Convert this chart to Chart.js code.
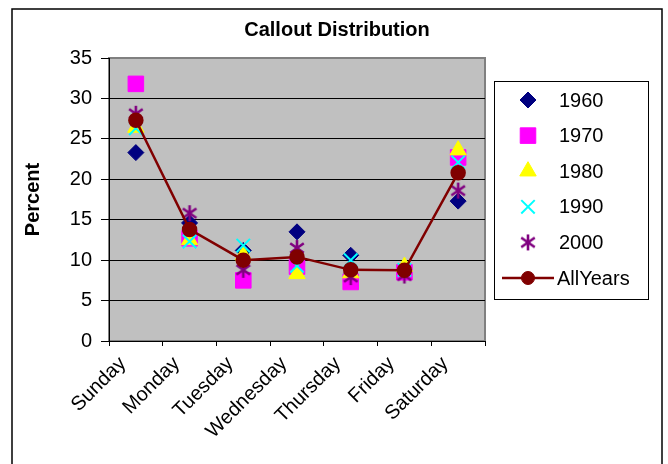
<!DOCTYPE html>
<html><head><meta charset="utf-8">
<title>Callout Distribution</title>
<script src="https://cdn.jsdelivr.net/npm/chart.js@4.4.7/dist/chart.umd.min.js"></script>
<style>
html,body{margin:0;padding:0;background:#fff}
#wrap{width:668px;height:464px;position:relative}
</style></head><body>
<div id="wrap"><canvas id="chart" width="668" height="464"></canvas></div>
<script>
// 呼叫分布（按星期），各年代 + 全部年份
var DAYS = ['Sunday','Monday','Tuesday','Wednesday','Thursday','Friday','Saturday'];
var Y1960 = [23.3, 14.6, 11.2, 13.5, 10.6, 8.6, 17.3];
var Y1970 = [31.8, 12.7, 7.5, 9.2, 7.3, 8.5, 22.7];
var Y1980 = [26.4, 12.5, 10.6, 8.3, 8.4, 9.2, 23.6];
var Y1990 = [26.3, 12.3, 11.8, 9.3, 10.0, 8.8, 22.1];
var Y2000 = [28.1, 15.8, 8.8, 11.5, 7.9, 8.1, 18.6];
var ALLYEARS = [27.3, 13.8, 10.0, 10.4, 8.8, 8.75, 20.8];
var Y_TICKS = [0, 5, 10, 15, 20, 25, 30, 35];
var TITLE = 'Callout Distribution';

var FONT = 'Arial, "Liberation Sans", sans-serif';

// Excel-style asterisk: X plus vertical bar
function makeAsterisk(color, size) {
  var c = document.createElement('canvas');
  c.width = size; c.height = size;
  var g = c.getContext('2d');
  var m = size / 2, r = size / 2 - 1;
  g.strokeStyle = color; g.lineWidth = 2.6; g.lineCap = 'butt';
  g.beginPath();
  g.moveTo(m, m - r); g.lineTo(m, m + r);
  var d = r * 0.85;
  g.moveTo(m - d, m - d * 0.7); g.lineTo(m + d, m + d * 0.7);
  g.moveTo(m + d, m - d * 0.7); g.lineTo(m - d, m + d * 0.7);
  g.stroke();
  return c;
}
var ASTER = makeAsterisk('#800080', 18);

var SERIES = [
  {label:'1960', data:Y1960, style:'rectRot', color:'#000080', r:8, bw:1},
  {label:'1970', data:Y1970, style:'rect', color:'#FF00FF', r:11, bw:1},
  {label:'1980', data:Y1980, style:'triangle', color:'#FFFF00', r:9.5, bw:1},
  {label:'1990', data:Y1990, style:'crossRot', color:'#00FFFF', r:9.5, bw:2},
  {label:'2000', data:Y2000, style:ASTER, color:'#800080', r:9, bw:1}
];

// later series drawn on top (like Excel), AllYears topmost
var datasets = SERIES.map(function(s, i) {
  return {
    label: s.label, data: s.data, showLine: false,
    pointStyle: s.style, pointRadius: s.r, pointHoverRadius: s.r,
    pointBackgroundColor: s.color, pointBorderColor: s.color, pointBorderWidth: s.bw,
    borderColor: s.color, backgroundColor: s.color, order: SERIES.length - i + 1
  };
});
datasets.push({
  label: 'AllYears', data: ALLYEARS, borderColor: '#800000', backgroundColor: '#800000',
  borderWidth: 2.5, tension: 0, pointStyle: 'circle', pointRadius: 6.5, pointHoverRadius: 6.5,
  pointBackgroundColor: '#800000', pointBorderColor: '#800000', order: 0
});

var frame = {
  id: 'frame',
  beforeDraw: function(chart) {
    var c = chart.ctx, a = chart.chartArea;
    c.save();
    c.fillStyle = '#fff';
    c.fillRect(0, 0, chart.width, chart.height);
    c.strokeStyle = '#000'; c.lineWidth = 1.5;
    c.strokeRect(12, 9, 650, 470);
    c.fillStyle = '#C0C0C0';
    c.fillRect(a.left, a.top, a.right - a.left, a.bottom - a.top);
    c.strokeStyle = '#808080'; c.lineWidth = 2;
    c.strokeRect(a.left, a.top, a.right - a.left, a.bottom - a.top);
    // title, centred on the whole chart
    c.fillStyle = '#000';
    c.font = 'bold 20px ' + FONT;
    c.textAlign = 'center'; c.textBaseline = 'middle';
    c.fillText(TITLE, 337, 30);
    c.restore();
  },
  afterDraw: function(chart) {
    // legend box
    var c = chart.ctx;
    var bx = 494, by = 81, bw = 154, bh = 218;
    c.save();
    c.fillStyle = '#fff';
    c.fillRect(bx, by, bw, bh);
    c.strokeStyle = '#000'; c.lineWidth = 1;
    c.strokeRect(bx + 0.5, by + 0.5, bw, bh);
    var mx = 528, tx = 559, y0 = 100, step = 35.6;
    c.font = '20px ' + FONT;
    c.textBaseline = 'middle';
    chart.data.datasets.forEach(function(ds, i) {
      var y = y0 + i * step;
      if (ds.label === 'AllYears') {
        c.strokeStyle = ds.borderColor; c.lineWidth = 2.5;
        c.beginPath(); c.moveTo(502, y); c.lineTo(554, y); c.stroke();
      }
      c.fillStyle = ds.pointBackgroundColor;
      c.strokeStyle = ds.pointBorderColor;
      c.lineWidth = ds.pointBorderWidth || 1;
      Chart.helpers.drawPoint(c, {pointStyle: ds.pointStyle, radius: ds.pointRadius, borderWidth: ds.pointBorderWidth || 1, rotation: 0}, mx, y);
      c.fillStyle = '#000';
      c.fillText(ds.label, ds.label === 'AllYears' ? 557 : tx, y + 1);
    });
    c.restore();
  }
};

new Chart(document.getElementById('chart').getContext('2d'), {
  type: 'line',
  data: {labels: DAYS, datasets: datasets},
  plugins: [frame],
  options: {
    responsive: false, animation: false,
    layout: {padding: {left: 12, right: 183, top: 58, bottom: 0}},
    plugins: {
      legend: {display: false},
      tooltip: {enabled: false},
      title: {display: false}
    },
    scales: {
      x: {
        offset: true,
        afterFit: function(s) { s.height = 123; },
        grid: {offset: true, drawOnChartArea: false, drawTicks: true, tickLength: 5, tickColor: '#000'},
        border: {color: '#000', width: 1},
        ticks: {color: '#000', font: {family: FONT, size: 20}, maxRotation: 45, minRotation: 45, padding: 6, labelOffset: -13, autoSkip: false}
      },
      y: {
        min: 0, max: 35,
        afterFit: function(s) { s.width = 97; },
        afterBuildTicks: function(s) { s.ticks = Y_TICKS.map(function(v) { return {value: v}; }); },
        grid: {
          color: function(ctx) { return (ctx.tick && (ctx.tick.value === 35 || ctx.tick.value === 0)) ? 'rgba(0,0,0,0)' : '#000'; },
          tickColor: '#000', tickLength: 8, lineWidth: 1
        },
        border: {color: '#000', width: 1},
        title: {display: true, text: 'Percent', color: '#000', font: {family: FONT, size: 20, weight: 'bold'}, padding: {top: 9, bottom: 0}},
        ticks: {color: '#000', font: {family: FONT, size: 20}, padding: 9}
      }
    }
  }
});
</script></body></html>
